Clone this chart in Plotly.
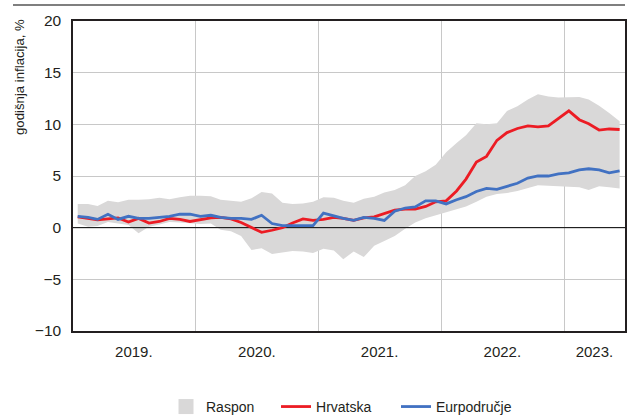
import pandas as pd
import plotly.graph_objects as go

# ---- data (monthly, Jan 2019 - Jun 2023) ----
months = pd.date_range("2019-01-01", periods=54, freq="MS") + pd.Timedelta(days=14)

hrvatska = [1.05, 0.9, 0.75, 0.85, 0.95, 0.55, 0.9, 0.45, 0.6, 0.9, 0.8, 0.6,
            0.8, 0.95, 1.0, 0.85, 0.5, 0.0, -0.45, -0.25, 0.0, 0.45, 0.85, 0.7,
            0.8, 1.0, 0.9, 0.7, 0.95, 1.05, 1.35, 1.7, 1.8, 1.8, 2.05, 2.5,
            2.6, 3.55, 4.7, 6.35, 6.9, 8.45, 9.2, 9.6, 9.85, 9.75, 9.85, 10.55,
            11.3, 10.45, 10.05, 9.45, 9.55, 9.5]

eurpodrucje = [1.1, 1.0, 0.8, 1.3, 0.8, 1.1, 0.9, 0.9, 1.0, 1.1, 1.3, 1.3,
               1.1, 1.2, 1.0, 0.9, 0.9, 0.8, 1.2, 0.4, 0.2, 0.2, 0.2, 0.2,
               1.4, 1.1, 0.9, 0.7, 1.0, 0.9, 0.7, 1.6, 1.9, 2.0, 2.6, 2.6,
               2.3, 2.7, 3.0, 3.5, 3.8, 3.7, 4.0, 4.3, 4.8, 5.0, 5.0, 5.2,
               5.3, 5.6, 5.7, 5.6, 5.3, 5.5]

raspon_gornji = [2.3, 2.3, 2.1, 2.6, 2.45, 2.7, 2.7, 2.75, 2.9, 2.75, 2.95, 3.1,
                 3.1, 3.05, 2.7, 2.6, 2.5, 2.85, 3.45, 3.3, 2.4, 2.3, 2.35, 2.5,
                 2.95, 2.9, 2.6, 2.4, 2.8, 3.0, 3.4, 3.65, 4.1, 5.0, 5.45, 6.1,
                 7.3, 8.2, 8.95, 10.1, 10.0, 10.1, 11.3, 11.75, 12.4, 12.9, 12.7, 12.6,
                 12.65, 12.65, 12.4, 11.8, 11.1, 10.3]

raspon_donji = [0.4, 0.1, 0.15, 0.55, 0.4, 0.25, -0.55, 0.1, 0.3, 0.55, 0.5, 0.45,
                0.35, 0.4, -0.2, -0.35, -0.8, -2.15, -2.0, -2.55, -2.4, -2.25, -2.3, -2.45,
                -2.05, -2.2, -3.05, -2.3, -2.85, -1.75, -1.3, -0.8, -0.1, 0.5, 0.9, 1.2,
                1.45, 1.75, 2.05, 2.5, 3.0, 3.25, 3.35, 3.55, 3.85, 4.1, 4.05, 4.0,
                4.0, 3.9, 3.65, 4.0, 3.9, 3.8]

year_labels = ["2019.", "2020.", "2021.", "2022.", "2023."]
year_label_pos = ["2019-07-01", "2020-07-01", "2021-07-01", "2022-07-01", "2023-04-01"]
year_starts = ["2020-01-01", "2021-01-01", "2022-01-01", "2023-01-01"]
x_range = ["2019-01-01", "2023-07-01"]
y_ticks = [-10, -5, 0, 5, 10, 15, 20]

FONT = "Liberation Sans, Arial, Helvetica, sans-serif"
GRAY = "#d9d8d8"
RED = "#ec1c24"
BLUE = "#4171c2"
TXT = "#231f20"

fig = go.Figure()
fig.add_trace(go.Scatter(x=months, y=raspon_donji, mode="lines", line=dict(width=0),
                         showlegend=False, hoverinfo="skip"))
fig.add_trace(go.Scatter(x=months, y=raspon_gornji, mode="lines", line=dict(width=0),
                         fill="tonexty", fillcolor=GRAY, showlegend=False, hoverinfo="skip"))
fig.add_trace(go.Scatter(x=[None], y=[None], mode="markers", name="Raspon", legend="legend",
                         marker=dict(symbol="square", size=15, color=GRAY)))
# zero reference line drawn above the band
fig.add_trace(go.Scatter(x=x_range, y=[0, 0], mode="lines", line=dict(color="#000000", width=1),
                         showlegend=False, hoverinfo="skip"))
fig.add_trace(go.Scatter(x=months, y=hrvatska, mode="lines", name="Hrvatska", legend="legend2",
                         line=dict(color=RED, width=2.8)))
fig.add_trace(go.Scatter(x=months, y=eurpodrucje, mode="lines", name="Eurpodručje", legend="legend3",
                         line=dict(color=BLUE, width=2.8)))

leg_common = dict(orientation="h", xanchor="left", y=-0.245, yanchor="middle",
                  font=dict(size=14, color=TXT), bgcolor="rgba(0,0,0,0)", borderwidth=0)

fig.update_layout(
    width=630, height=417,
    margin=dict(l=73, r=5, t=21, b=86, autoexpand=False),
    paper_bgcolor="white", plot_bgcolor="white",
    font=dict(family=FONT, size=15, color=TXT),
    showlegend=True,
    legend=dict(x=0.1685, **leg_common),
    legend2=dict(x=0.3678, **leg_common),
    legend3=dict(x=0.5851, **leg_common),
    xaxis=dict(type="date", range=x_range, automargin=False,
               tickmode="array", tickvals=year_label_pos, ticktext=year_labels,
               tickfont=dict(size=15),
               showgrid=False, ticks="", ticklabelstandoff=6,
               showline=True, linecolor=TXT, linewidth=1.5, mirror=True,
               minor=dict(tickmode="array", tickvals=year_starts, showgrid=True,
                          gridcolor="#c8c8c8", gridwidth=1, ticks=""),
               zeroline=False, fixedrange=True),
    yaxis=dict(range=[-10, 20], tickmode="array", tickvals=y_ticks, automargin=False,
               tickfont=dict(size=15.5),
               showgrid=True, gridcolor="#c8c8c8", gridwidth=1,
               zeroline=False, ticks="", ticklabelstandoff=7,
               showline=True, linecolor=TXT, linewidth=1.5, mirror=True,
               fixedrange=True),
    shapes=[dict(type="line", xref="paper", yref="paper",
                 x0=-0.1087, x1=1.0, y0=1.0516, y1=1.0516,
                 line=dict(color="#555555", width=1.5))],
    annotations=[dict(text="godišnja inflacija, %", xref="paper", yref="paper",
                      x=-0.096, y=1.013, xanchor="center", yanchor="top",
                      textangle=-90, showarrow=False,
                      font=dict(size=13.2, color=TXT))],
)

fig.write_html("out.html",
               config={"displayModeBar": False},
               post_script="document.body.style.margin='0';document.body.style.padding='0';")
